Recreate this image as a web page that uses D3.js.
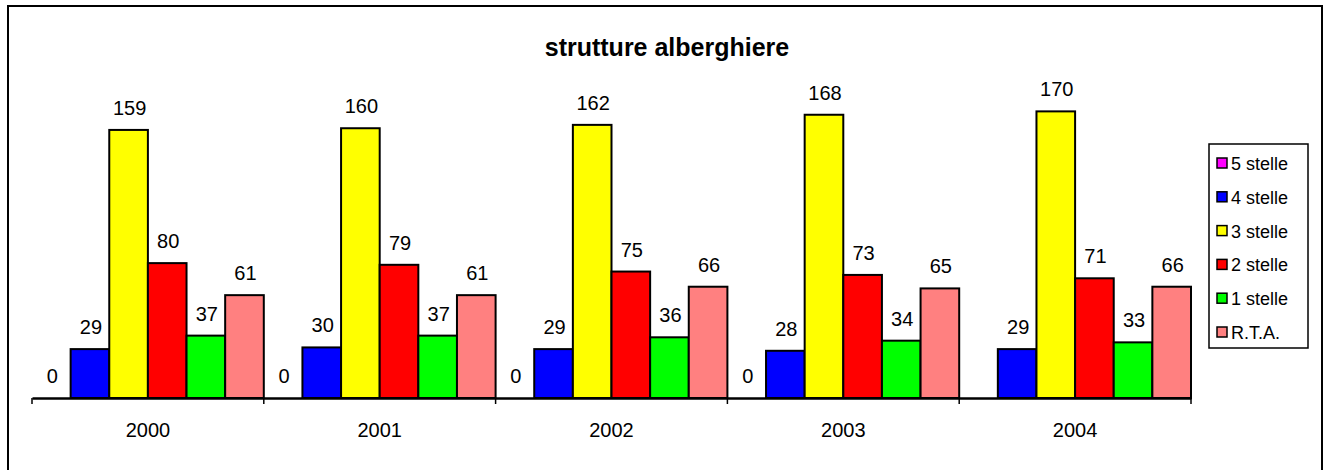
<!DOCTYPE html>
<html>
<head>
<meta charset="utf-8">
<script src="https://cdn.jsdelivr.net/npm/d3@7"></script>
<style>
  body { margin: 0; background: #fff; }
  svg { display: block; font-family: "Liberation Sans", Arial, sans-serif; }
</style>
</head>
<body>
<svg id="chart" width="1323" height="470"></svg>
<script>
// data
var years = ["2000", "2001", "2002", "2003", "2004"];
var seriesNames = ["5 stelle", "4 stelle", "3 stelle", "2 stelle", "1 stelle", "R.T.A."];
var seriesColors = ["#ff00ff", "#0000ff", "#ffff00", "#ff0000", "#00ff00", "#ff8080"];
var stelle5 = [0, 0, 0, 0, 0];
var stelle4 = [29, 30, 29, 28, 29];
var stelle3 = [159, 160, 162, 168, 170];
var stelle2 = [80, 79, 75, 73, 71];
var stelle1 = [37, 37, 36, 34, 33];
var rta = [61, 61, 66, 65, 66];
// 2004 has no label for 5 stelle
var showZero = [true, true, true, true, false];

var series = [stelle5, stelle4, stelle3, stelle2, stelle1, rta];

var svg = d3.select("#chart");

// outer frame
svg.append("rect")
  .attr("x", 8).attr("y", 6)
  .attr("width", 1314).attr("height", 480)
  .attr("fill", "none").attr("stroke", "#000").attr("stroke-width", 2);

// title
svg.append("text")
  .attr("x", 667).attr("y", 56)
  .attr("text-anchor", "middle")
  .attr("font-size", 25).attr("font-weight", "bold")
  .text("strutture alberghiere");

var x0 = d3.scaleBand().domain(years).range([32, 1191]).padding(0);
var x1 = d3.scaleBand().domain(d3.range(seriesNames.length)).range([0, x0.bandwidth()]).padding(0);
var y = d3.scaleLinear().domain([0, 180]).range([398, 398 - 180 * 1.686]);

var groups = svg.selectAll(".grp")
  .data(years)
  .enter().append("g")
  .attr("class", "grp")
  .attr("transform", function(d) { return "translate(" + x0(d) + ",0)"; });

groups.each(function(yr, i) {
  var g = d3.select(this);
  series.forEach(function(vals, s) {
    var v = vals[i];
    if (v > 0) {
      g.append("rect")
        .attr("x", x1(s))
        .attr("y", y(v))
        .attr("width", x1.bandwidth())
        .attr("height", y(0) - y(v))
        .attr("fill", seriesColors[s])
        .attr("stroke", "#000").attr("stroke-width", 2);
    }
    if (v > 0 || showZero[i]) {
      g.append("text")
        .attr("x", x1(s) + x1.bandwidth() / 2 + 1)
        .attr("y", y(v) - 15)
        .attr("text-anchor", "middle")
        .attr("font-size", 20)
        .text(v);
    }
  });
});

// x axis
var axis = d3.axisBottom(x0).tickSize(0).tickPadding(0);
var ax = svg.append("g").attr("transform", "translate(0,398)").call(axis);
ax.select(".domain").attr("stroke", "#000").attr("stroke-width", 2.5);
ax.selectAll(".tick text").attr("font-size", 20).attr("dy", "1.95em")
  .attr("font-family", "Liberation Sans, Arial, sans-serif").attr("fill", "#000");
var bounds = years.map(function(d) { return x0(d); }).concat([x0.range()[1]]);
ax.selectAll(".bnd").data(bounds).enter().append("line")
  .attr("x1", function(d) { return d; }).attr("x2", function(d) { return d; })
  .attr("y1", 0).attr("y2", 6)
  .attr("stroke", "#000").attr("stroke-width", 1.5);

// legend
var lg = svg.append("g");
lg.append("rect")
  .attr("x", 1209).attr("y", 144).attr("width", 99).attr("height", 204)
  .attr("fill", "#fff").attr("stroke", "#000").attr("stroke-width", 1.5);
var items = lg.selectAll(".item").data(seriesNames).enter().append("g")
  .attr("transform", function(d, i) { return "translate(1217," + (163 + i * 33.8) + ")"; });
items.append("rect")
  .attr("x", 0).attr("y", -5).attr("width", 10).attr("height", 10)
  .attr("fill", function(d, i) { return seriesColors[i]; })
  .attr("stroke", "#000").attr("stroke-width", 1.5);
items.append("text")
  .attr("x", 14).attr("y", 7)
  .attr("font-size", 18)
  .text(function(d) { return d; });
</script>
</body>
</html>
